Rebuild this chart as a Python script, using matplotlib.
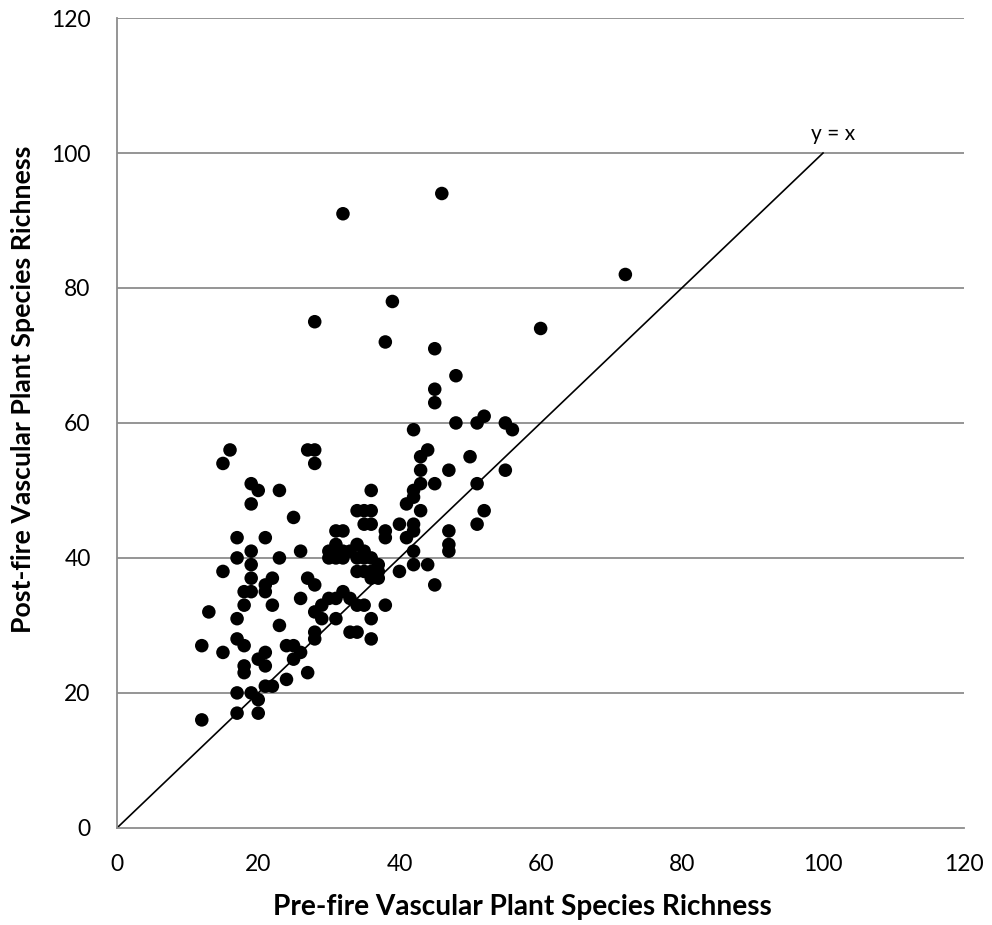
import numpy as np
import matplotlib.pyplot as plt

# pre-fire / post-fire species richness per plot
pre_fire = [12, 12, 13, 15, 16, 15, 15, 17, 17, 17, 17, 17, 17, 18, 18, 18, 18, 18,
            19, 19, 19, 19, 19, 19, 19, 20, 20, 20, 20, 21, 21, 21, 21, 21, 21,
            22, 22, 22, 23, 23, 23, 24, 24, 25, 25, 25, 26, 26, 26, 27, 27, 27,
            28, 28, 28, 28, 28, 28, 28, 29, 29, 30, 30, 30, 31, 31, 31, 31, 31, 31,
            32, 32, 32, 32, 32, 33, 33, 33, 34, 34, 34, 34, 34, 34,
            35, 35, 35, 35, 35, 35, 36, 36, 36, 36, 36, 36, 36, 36, 37, 37, 37,
            38, 38, 38, 38, 39, 40, 40, 41, 41, 42, 42, 42, 42, 42, 42, 42,
            43, 43, 43, 43, 44, 44, 45, 45, 45, 45, 45, 46, 47, 47, 47, 47,
            48, 48, 50, 51, 51, 51, 52, 52, 55, 55, 56, 60, 72]
post_fire = [16, 27, 32, 54, 56, 38, 26, 43, 40, 31, 28, 20, 17, 35, 33, 27, 24, 23,
             51, 48, 41, 39, 37, 35, 20, 50, 25, 19, 17, 43, 36, 35, 26, 24, 21,
             37, 33, 21, 50, 40, 30, 27, 22, 46, 27, 25, 41, 34, 26, 56, 37, 23,
             56, 54, 75, 36, 32, 29, 28, 33, 31, 41, 40, 34, 44, 42, 41, 40, 34, 31,
             91, 44, 41, 40, 35, 41, 34, 29, 47, 42, 40, 38, 33, 29,
             47, 45, 41, 40, 38, 33, 50, 47, 45, 40, 38, 37, 31, 28, 39, 38, 37,
             72, 44, 43, 33, 78, 45, 38, 48, 43, 59, 50, 49, 45, 44, 41, 39,
             55, 53, 51, 47, 56, 39, 71, 65, 63, 51, 36, 94, 53, 44, 42, 41,
             67, 60, 55, 60, 51, 45, 61, 47, 60, 53, 59, 74, 82]

ticks = [0, 20, 40, 60, 80, 100, 120]

plt.rcParams['font.family'] = ['Lato', 'DejaVu Sans']

fig = plt.figure(figsize=(9.92, 9.25), dpi=100)
ax = fig.add_axes([0.118, 0.105, 0.854, 0.8755])

ax.set_xlim(0, 120)
ax.set_ylim(0, 120)
ax.set_xticks(ticks)
ax.set_yticks(ticks)

# horizontal gridlines only
for t in ticks[1:]:
    ax.axhline(t, color='#8c8c8c', linewidth=1.3, zorder=0)

ax.plot([0, 100], [0, 100], color='black', linewidth=1.2, zorder=2)
ax.text(101.4, 102.8, 'y = x', ha='center', va='center', fontsize=15)

ax.scatter(pre_fire, post_fire, s=95, color='black', edgecolors='none', zorder=3)

for side in ['top', 'right']:
    ax.spines[side].set_visible(False)
for side in ['left', 'bottom']:
    ax.spines[side].set_color('#8c8c8c')
    ax.spines[side].set_linewidth(1.3)

ax.tick_params(length=0, labelsize=16.5, pad=19)

ax.set_xlabel('Pre-fire Vascular Plant Species Richness', fontsize=20.2,
              fontweight='bold', va='center')
ax.set_ylabel('Post-fire Vascular Plant Species Richness', fontsize=19.2,
              fontweight='bold', va='center')
ax.xaxis.set_label_coords(0.479, -0.0975)
ax.yaxis.set_label_coords(-0.111, 0.541)

fig.savefig('out.png', dpi=100)
